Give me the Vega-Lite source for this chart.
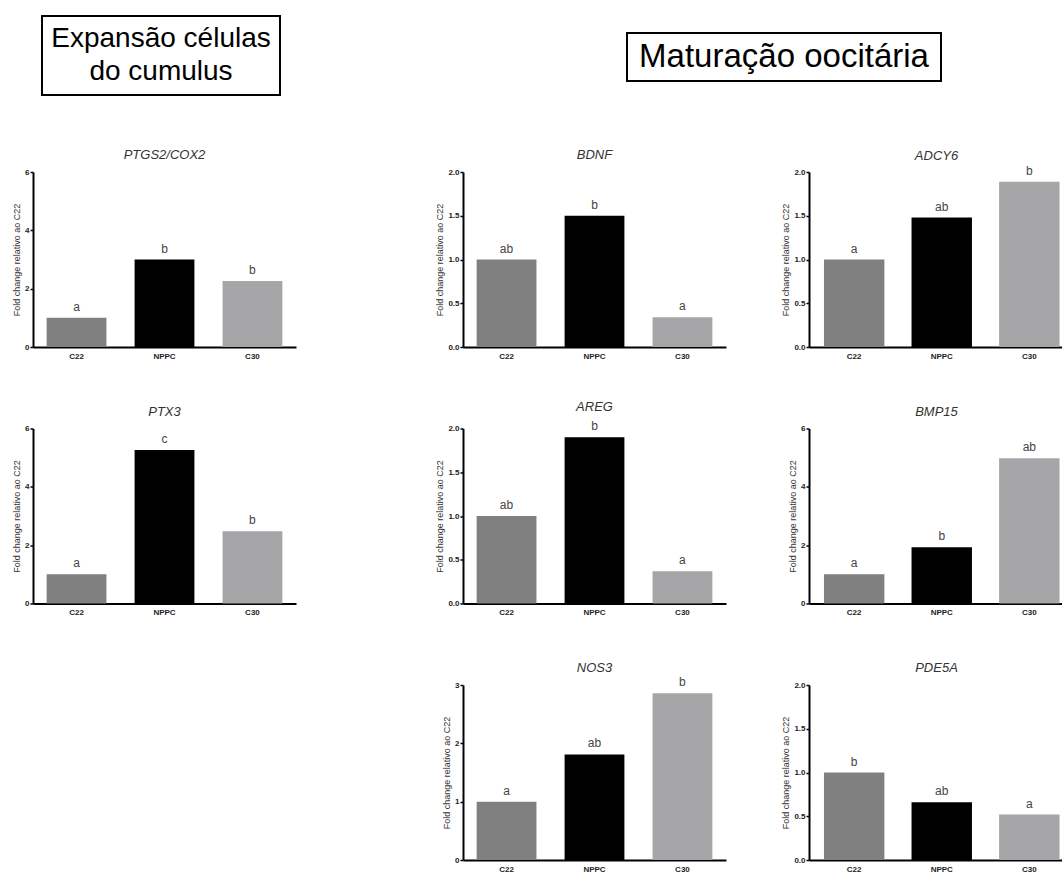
{
  "$schema": "https://vega.github.io/schema/vega-lite/v6.json",
  "autosize": {"type": "pad"},
  "padding": {"left": 12, "top": 15, "right": 0, "bottom": 0},
  "background": "white",
  "config": {
    "font": "Liberation Sans",
    "view": {"stroke": null},
    "axis": {"grid": false, "domainColor": "#000", "domainWidth": 2, "tickColor": "#000", "labelColor": "#222", "labelFontWeight": "bold", "labelFontSize": 8, "titleFontWeight": "normal", "titleFontSize": 9, "titleColor": "#333"},
    "axisX": {"ticks": false, "labelAngle": 0, "labelPadding": 5},
    "axisY": {"tickSize": 3, "tickWidth": 1.5, "labelPadding": 1, "titlePadding": 3},
    "title": {"fontSize": 13, "fontStyle": "italic", "fontWeight": "normal", "color": "#333", "anchor": "middle", "frame": "group", "offset": 6}
  },
  "data": {"values": [
    {"gene": "PTGS2/COX2", "group": "C22", "value": 1.0, "letter": "a"},
    {"gene": "PTGS2/COX2", "group": "NPPC", "value": 3.0, "letter": "b"},
    {"gene": "PTGS2/COX2", "group": "C30", "value": 2.26, "letter": "b"},
    {"gene": "PTX3", "group": "C22", "value": 1.0, "letter": "a"},
    {"gene": "PTX3", "group": "NPPC", "value": 5.26, "letter": "c"},
    {"gene": "PTX3", "group": "C30", "value": 2.48, "letter": "b"},
    {"gene": "BDNF", "group": "C22", "value": 1.0, "letter": "ab"},
    {"gene": "BDNF", "group": "NPPC", "value": 1.5, "letter": "b"},
    {"gene": "BDNF", "group": "C30", "value": 0.34, "letter": "a"},
    {"gene": "AREG", "group": "C22", "value": 1.0, "letter": "ab"},
    {"gene": "AREG", "group": "NPPC", "value": 1.9, "letter": "b"},
    {"gene": "AREG", "group": "C30", "value": 0.37, "letter": "a"},
    {"gene": "NOS3", "group": "C22", "value": 1.0, "letter": "a"},
    {"gene": "NOS3", "group": "NPPC", "value": 1.81, "letter": "ab"},
    {"gene": "NOS3", "group": "C30", "value": 2.86, "letter": "b"},
    {"gene": "ADCY6", "group": "C22", "value": 1.0, "letter": "a"},
    {"gene": "ADCY6", "group": "NPPC", "value": 1.48, "letter": "ab"},
    {"gene": "ADCY6", "group": "C30", "value": 1.89, "letter": "b"},
    {"gene": "BMP15", "group": "C22", "value": 1.0, "letter": "a"},
    {"gene": "BMP15", "group": "NPPC", "value": 1.93, "letter": "b"},
    {"gene": "BMP15", "group": "C30", "value": 4.98, "letter": "ab"},
    {"gene": "PDE5A", "group": "C22", "value": 1.0, "letter": "b"},
    {"gene": "PDE5A", "group": "NPPC", "value": 0.66, "letter": "ab"},
    {"gene": "PDE5A", "group": "C30", "value": 0.52, "letter": "a"}
  ]},
  "spacing": 53,
  "vconcat": [
    {
      "hconcat": [
        {
          "hconcat": [
            {"width": 8, "height": 10, "data": {"values": [{"t": ""}]}, "mark": {"type": "text"}, "encoding": {"text": {"field": "t"}}, "view": {"stroke": null, "fill": "transparent"}},
            {"width": 238, "height": 79, "data": {"values": [{"label": "Expansão células\ndo cumulus"}]}, "mark": {"type": "text", "fontSize": 28, "lineHeight": 33, "lineBreak": "\n", "baseline": "middle", "align": "center", "dy": -17, "color": "#000"}, "encoding": {"text": {"field": "label"}}, "view": {"stroke": "#000", "strokeWidth": 2}}
          ],
          "spacing": 0
        },
        {
          "vconcat": [
            {"width": 10, "height": 16, "data": {"values": [{"t": ""}]}, "mark": {"type": "text"}, "encoding": {"text": {"field": "t"}}, "view": {"stroke": null, "fill": "transparent"}},
            {"width": 314, "height": 48, "data": {"values": [{"label": "Maturação oocitária"}]}, "mark": {"type": "text", "fontSize": 33, "baseline": "middle", "align": "center", "color": "#000"}, "encoding": {"text": {"field": "label"}}, "view": {"stroke": "#000", "strokeWidth": 2}}
          ],
          "spacing": 0
        }
      ],
      "spacing": 345
    },
    {
      "hconcat": [
        {
          "vconcat": [
            {
              "title": "PTGS2/COX2", "width": 263, "height": 175,
              "transform": [{"filter": "datum.gene === 'PTGS2/COX2'"}],
              "encoding": {
                "x": {"field": "group", "type": "nominal", "sort": ["C22", "NPPC", "C30"], "title": null, "scale": {"paddingInner": 0.32, "paddingOuter": 0.155}},
                "y": {"field": "value", "type": "quantitative", "title": "Fold change relativo ao C22", "scale": {"domain": [0, 6], "nice": false}, "axis": {"values": [0, 2, 4, 6], "format": "d"}}
              },
              "layer": [
                {"mark": "bar", "encoding": {"color": {"field": "group", "type": "nominal", "scale": {"domain": ["C22", "NPPC", "C30"], "range": ["#808080", "#000000", "#a6a6a8"]}, "legend": null}}},
                {"mark": {"type": "text", "baseline": "alphabetic", "dy": -7, "fontSize": 12, "color": "#444"}, "encoding": {"text": {"field": "letter"}}}
              ]
            },
            {
              "title": "PTX3", "width": 263, "height": 175,
              "transform": [{"filter": "datum.gene === 'PTX3'"}],
              "encoding": {
                "x": {"field": "group", "type": "nominal", "sort": ["C22", "NPPC", "C30"], "title": null, "scale": {"paddingInner": 0.32, "paddingOuter": 0.155}},
                "y": {"field": "value", "type": "quantitative", "title": "Fold change relativo ao C22", "scale": {"domain": [0, 6], "nice": false}, "axis": {"values": [0, 2, 4, 6], "format": "d"}}
              },
              "layer": [
                {"mark": "bar", "encoding": {"color": {"field": "group", "type": "nominal", "scale": {"domain": ["C22", "NPPC", "C30"], "range": ["#808080", "#000000", "#a6a6a8"]}, "legend": null}}},
                {"mark": {"type": "text", "baseline": "alphabetic", "dy": -7, "fontSize": 12, "color": "#444"}, "encoding": {"text": {"field": "letter"}}}
              ]
            }
          ],
          "spacing": 81.5, "bounds": "flush"
        },
        {
          "hconcat": [
            {
              "vconcat": [
                {
                  "title": "BDNF", "width": 263, "height": 175,
                  "transform": [{"filter": "datum.gene === 'BDNF'"}],
                  "encoding": {
                    "x": {"field": "group", "type": "nominal", "sort": ["C22", "NPPC", "C30"], "title": null, "scale": {"paddingInner": 0.32, "paddingOuter": 0.155}},
                    "y": {"field": "value", "type": "quantitative", "title": "Fold change relativo ao C22", "scale": {"domain": [0, 2], "nice": false}, "axis": {"values": [0, 0.5, 1, 1.5, 2], "format": ".1f"}}
                  },
                  "layer": [
                    {"mark": "bar", "encoding": {"color": {"field": "group", "type": "nominal", "scale": {"domain": ["C22", "NPPC", "C30"], "range": ["#808080", "#000000", "#a6a6a8"]}, "legend": null}}},
                    {"mark": {"type": "text", "baseline": "alphabetic", "dy": -7, "fontSize": 12, "color": "#444"}, "encoding": {"text": {"field": "letter"}}}
                  ]
                },
                {
                  "title": "AREG", "width": 263, "height": 175,
                  "transform": [{"filter": "datum.gene === 'AREG'"}],
                  "encoding": {
                    "x": {"field": "group", "type": "nominal", "sort": ["C22", "NPPC", "C30"], "title": null, "scale": {"paddingInner": 0.32, "paddingOuter": 0.155}},
                    "y": {"field": "value", "type": "quantitative", "title": "Fold change relativo ao C22", "scale": {"domain": [0, 2], "nice": false}, "axis": {"values": [0, 0.5, 1, 1.5, 2], "format": ".1f"}}
                  },
                  "layer": [
                    {"mark": "bar", "encoding": {"color": {"field": "group", "type": "nominal", "scale": {"domain": ["C22", "NPPC", "C30"], "range": ["#808080", "#000000", "#a6a6a8"]}, "legend": null}}},
                    {"mark": {"type": "text", "baseline": "alphabetic", "dy": -7, "fontSize": 12, "color": "#444"}, "encoding": {"text": {"field": "letter"}}}
                  ]
                },
                {
                  "title": {"text": "NOS3", "offset": 1}, "width": 263, "height": 175,
                  "transform": [{"filter": "datum.gene === 'NOS3'"}],
                  "encoding": {
                    "x": {"field": "group", "type": "nominal", "sort": ["C22", "NPPC", "C30"], "title": null, "scale": {"paddingInner": 0.32, "paddingOuter": 0.155}},
                    "y": {"field": "value", "type": "quantitative", "title": "Fold change relativo ao C22", "scale": {"domain": [0, 3], "nice": false}, "axis": {"values": [0, 1, 2, 3], "format": "d"}}
                  },
                  "layer": [
                    {"mark": "bar", "encoding": {"color": {"field": "group", "type": "nominal", "scale": {"domain": ["C22", "NPPC", "C30"], "range": ["#808080", "#000000", "#a6a6a8"]}, "legend": null}}},
                    {"mark": {"type": "text", "baseline": "alphabetic", "dy": -7, "fontSize": 12, "color": "#444"}, "encoding": {"text": {"field": "letter"}}}
                  ]
                }
              ],
              "spacing": 81.5, "bounds": "flush"
            },
            {
              "vconcat": [
                {
                  "title": {"text": "ADCY6", "offset": 2}, "width": 255, "height": 175,
                  "transform": [{"filter": "datum.gene === 'ADCY6'"}],
                  "encoding": {
                    "x": {"field": "group", "type": "nominal", "sort": ["C22", "NPPC", "C30"], "title": null, "scale": {"paddingInner": 0.31, "paddingOuter": 0.111, "align": 0.77}},
                    "y": {"field": "value", "type": "quantitative", "title": "Fold change relativo ao C22", "scale": {"domain": [0, 2], "nice": false}, "axis": {"values": [0, 0.5, 1, 1.5, 2], "format": ".1f"}}
                  },
                  "layer": [
                    {"mark": "bar", "encoding": {"color": {"field": "group", "type": "nominal", "scale": {"domain": ["C22", "NPPC", "C30"], "range": ["#808080", "#000000", "#a6a6a8"]}, "legend": null}}},
                    {"mark": {"type": "text", "baseline": "alphabetic", "dy": -7, "fontSize": 12, "color": "#444"}, "encoding": {"text": {"field": "letter"}}}
                  ]
                },
                {
                  "title": "BMP15", "width": 255, "height": 175,
                  "transform": [{"filter": "datum.gene === 'BMP15'"}],
                  "encoding": {
                    "x": {"field": "group", "type": "nominal", "sort": ["C22", "NPPC", "C30"], "title": null, "scale": {"paddingInner": 0.31, "paddingOuter": 0.111, "align": 0.77}},
                    "y": {"field": "value", "type": "quantitative", "title": "Fold change relativo ao C22", "scale": {"domain": [0, 6], "nice": false}, "axis": {"values": [0, 2, 4, 6], "format": "d"}}
                  },
                  "layer": [
                    {"mark": "bar", "encoding": {"color": {"field": "group", "type": "nominal", "scale": {"domain": ["C22", "NPPC", "C30"], "range": ["#808080", "#000000", "#a6a6a8"]}, "legend": null}}},
                    {"mark": {"type": "text", "baseline": "alphabetic", "dy": -7, "fontSize": 12, "color": "#444"}, "encoding": {"text": {"field": "letter"}}}
                  ]
                },
                {
                  "title": "PDE5A", "width": 255, "height": 175,
                  "transform": [{"filter": "datum.gene === 'PDE5A'"}],
                  "encoding": {
                    "x": {"field": "group", "type": "nominal", "sort": ["C22", "NPPC", "C30"], "title": null, "scale": {"paddingInner": 0.31, "paddingOuter": 0.111, "align": 0.77}},
                    "y": {"field": "value", "type": "quantitative", "title": "Fold change relativo ao C22", "scale": {"domain": [0, 2], "nice": false}, "axis": {"values": [0, 0.5, 1, 1.5, 2], "format": ".1f"}}
                  },
                  "layer": [
                    {"mark": "bar", "encoding": {"color": {"field": "group", "type": "nominal", "scale": {"domain": ["C22", "NPPC", "C30"], "range": ["#808080", "#000000", "#a6a6a8"]}, "legend": null}}},
                    {"mark": {"type": "text", "baseline": "alphabetic", "dy": -7, "fontSize": 12, "color": "#444"}, "encoding": {"text": {"field": "letter"}}}
                  ]
                }
              ],
              "spacing": 81.5, "bounds": "flush"
            }
          ],
          "spacing": 55
        }
      ],
      "spacing": 139
    }
  ]
}
